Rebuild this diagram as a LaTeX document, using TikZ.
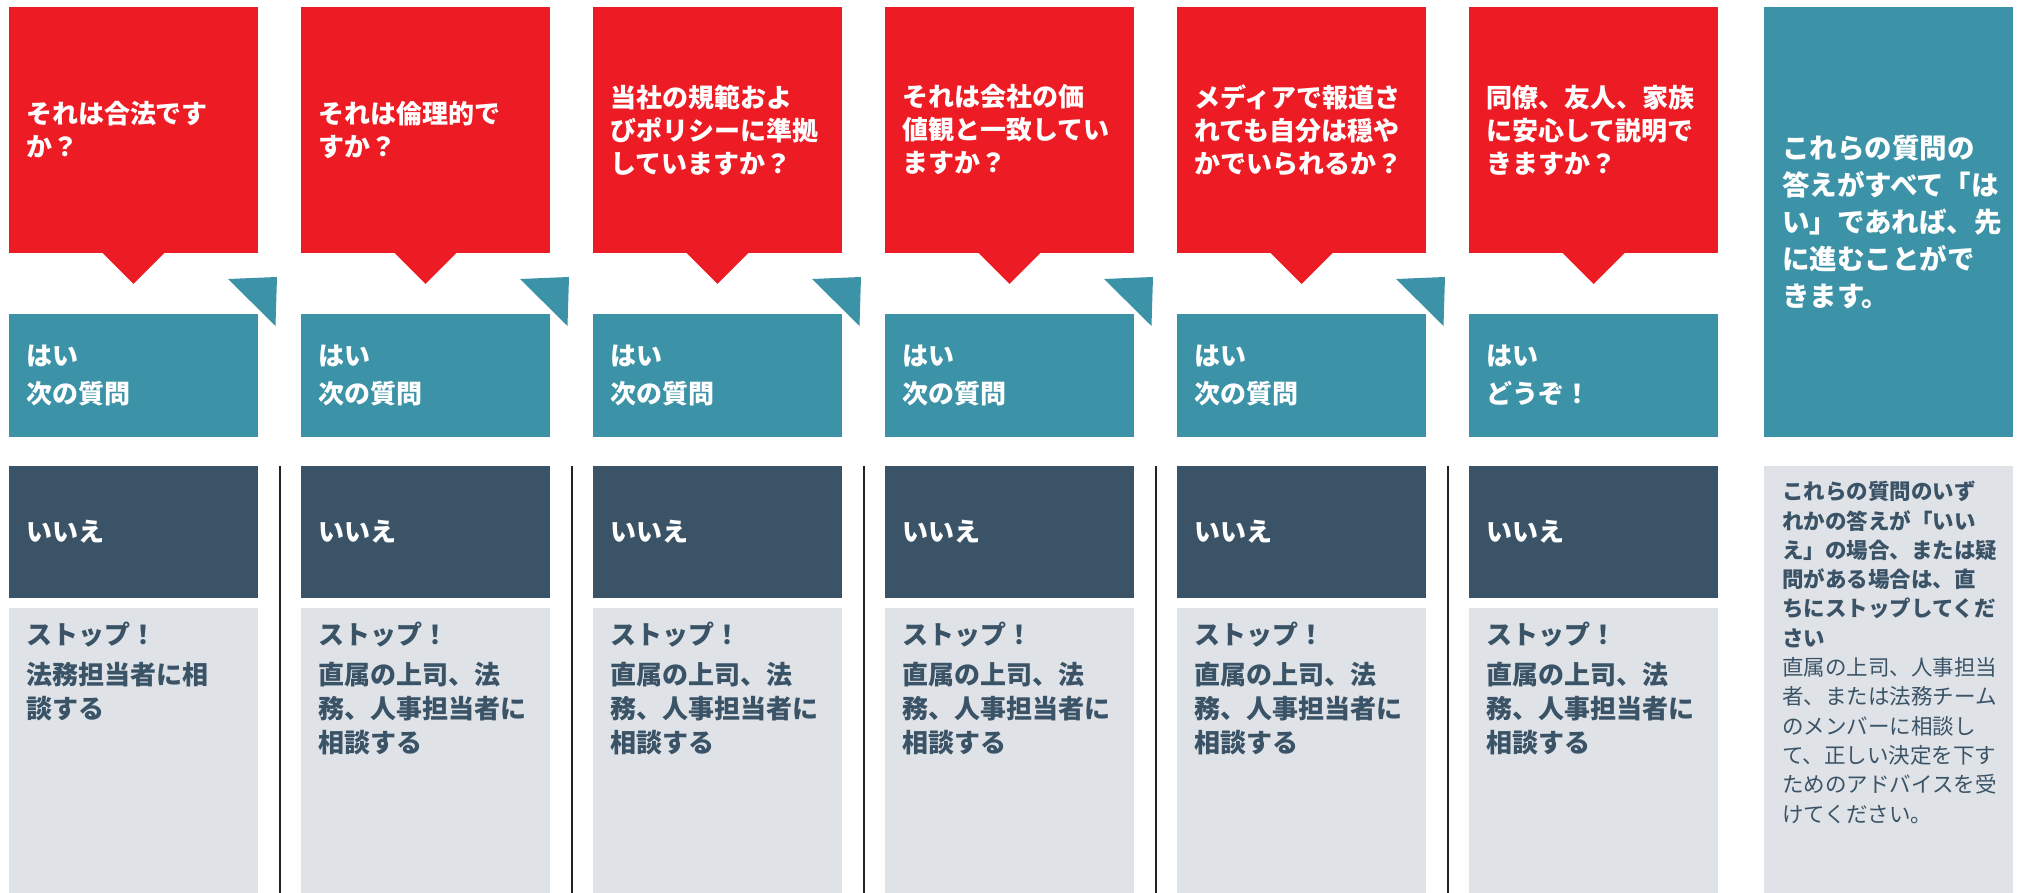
\documentclass[tikz,border=0pt]{standalone}
\usepackage{fontspec}
\setmainfont{Noto Sans CJK JP}
\usepackage{tikz}
\usetikzlibrary{positioning}

\definecolor{cRed}{HTML}{ED1C24}
\definecolor{cTeal}{HTML}{3C92A6}
\definecolor{cDark}{HTML}{3B5366}
\definecolor{cGrey}{HTML}{DFE3E8}
\definecolor{cLine}{HTML}{232323}

\newcommand{\fq}{\symbol{"FF1F}}
\newcommand{\fx}{\symbol{"FF01}}

\begin{document}
\begin{tikzpicture}
[
x=1pt, y=1pt,
box-q/.style={fill=cRed, text=white, anchor=north west, outer sep=0pt, inner xsep=17pt, inner ysep=0pt, minimum width=249pt, minimum height=246pt, text width=215pt, align=left, font=\bfseries\fontsize{26}{33}\selectfont},
box-y/.style={box-q, fill=cTeal, minimum height=123pt, font=\bfseries\fontsize{26}{38}\selectfont},
box-n/.style={box-q, fill=cDark, minimum height=132pt},
box-s/.style={box-q, fill=cGrey, minimum height=285pt},
box-f/.style={box-q, fill=cTeal, minimum height=430pt, inner xsep=18pt, text width=213pt, font=\bfseries\fontsize{27.5}{37}\selectfont},
text-s/.style={text=cDark, anchor=north west, inner sep=0pt, text width=225pt, align=left, font=\bfseries\fontsize{26}{34}\selectfont},
text-f/.style={text-s, font=\bfseries\fontsize{21.5}{29.3}\selectfont},
tip-q/.style={fill=cRed},
tip-y/.style={fill=cTeal},
line-s/.style={draw=cLine, line width=2pt},
]
\useasboundingbox (0,0) rectangle (2022,893);

% questions
\node (q1) [box-q] at (9,886)            {それは合法です\\か\fq};
\node (q2) [box-q, right = 43pt of q1]   {それは倫理的で\\すか\fq};
\node (q3) [box-q, right = 43pt of q2]   {当社の規範およ\\びポリシーに準拠\\していますか\fq};
\node (q4) [box-q, right = 43pt of q3]   {それは会社の価\\値観と一致してい\\ますか\fq};
\node (q5) [box-q, right = 43pt of q4]   {メディアで報道さ\\れても自分は穏や\\かでいられるか\fq};
\node (q6) [box-q, right = 43pt of q5]   {同僚、友人、家族\\に安心して説明で\\きますか\fq};
\node (f1) [box-f] at ([xshift=46pt]q6.north east) {これらの質問の\\答えがすべて「は\\い」であれば、先\\に進むことがで\\きます。};

% yes
\node (y1) [box-y, below = 61pt of q1]   {はい\\次の質問};
\node (y2) [box-y, below = 61pt of q2]   {はい\\次の質問};
\node (y3) [box-y, below = 61pt of q3]   {はい\\次の質問};
\node (y4) [box-y, below = 61pt of q4]   {はい\\次の質問};
\node (y5) [box-y, below = 61pt of q5]   {はい\\次の質問};
\node (y6) [box-y, below = 61pt of q6]   {はい\\どうぞ\fx};

% no
\node (n1) [box-n, below = 29pt of y1]   {いいえ};
\node (n2) [box-n, below = 29pt of y2]   {いいえ};
\node (n3) [box-n, below = 29pt of y3]   {いいえ};
\node (n4) [box-n, below = 29pt of y4]   {いいえ};
\node (n5) [box-n, below = 29pt of y5]   {いいえ};
\node (n6) [box-n, below = 29pt of y6]   {いいえ};

% stop
\node (s1) [box-s, below = 10pt of n1]   {};
\node (s2) [box-s, below = 10pt of n2]   {};
\node (s3) [box-s, below = 10pt of n3]   {};
\node (s4) [box-s, below = 10pt of n4]   {};
\node (s5) [box-s, below = 10pt of n5]   {};
\node (s6) [box-s, below = 10pt of n6]   {};
\node (g1) [box-s, below = 29pt of f1, minimum height=427pt] {};
\node (t1) [text-s, below right = 14pt and 17pt of s1.north west] {ストップ\fx\\[6pt]法務担当者に相\\談する};
\node (t2) [text-s, below right = 14pt and 17pt of s2.north west] {ストップ\fx\\[6pt]直属の上司、法\\務、人事担当者に\\相談する};
\node (t3) [text-s, below right = 14pt and 17pt of s3.north west] {ストップ\fx\\[6pt]直属の上司、法\\務、人事担当者に\\相談する};
\node (t4) [text-s, below right = 14pt and 17pt of s4.north west] {ストップ\fx\\[6pt]直属の上司、法\\務、人事担当者に\\相談する};
\node (t5) [text-s, below right = 14pt and 17pt of s5.north west] {ストップ\fx\\[6pt]直属の上司、法\\務、人事担当者に\\相談する};
\node (t6) [text-s, below right = 14pt and 17pt of s6.north west] {ストップ\fx\\[6pt]直属の上司、法\\務、人事担当者に\\相談する};
\node (tg) [text-f, below right = 15pt and 18pt of g1.north west] {これらの質問のいず\\れかの答えが「いい\\え」の場合、または疑\\問がある場合は、直\\ちにストップしてくだ\\さい\\\mdseries 直属の上司、人事担当\\者、または法務チーム\\のメンバーに相談し\\て、正しい決定を下す\\ためのアドバイスを受\\けてください。};

% pointers
\fill [tip-q] ([xshift=-31pt]q1.south) -- ([yshift=-31pt]q1.south) -- ([xshift=31pt]q1.south) -- cycle;
\fill [tip-q] ([xshift=-31pt]q2.south) -- ([yshift=-31pt]q2.south) -- ([xshift=31pt]q2.south) -- cycle;
\fill [tip-q] ([xshift=-31pt]q3.south) -- ([yshift=-31pt]q3.south) -- ([xshift=31pt]q3.south) -- cycle;
\fill [tip-q] ([xshift=-31pt]q4.south) -- ([yshift=-31pt]q4.south) -- ([xshift=31pt]q4.south) -- cycle;
\fill [tip-q] ([xshift=-31pt]q5.south) -- ([yshift=-31pt]q5.south) -- ([xshift=31pt]q5.south) -- cycle;
\fill [tip-q] ([xshift=-31pt]q6.south) -- ([yshift=-31pt]q6.south) -- ([xshift=31pt]q6.south) -- cycle;
\fill [tip-y] ([shift={(-30pt,35pt)}]y1.north east) -- ([shift={(19pt,37pt)}]y1.north east) -- ([shift={(17.5pt,-12pt)}]y1.north east) -- cycle;
\fill [tip-y] ([shift={(-30pt,35pt)}]y2.north east) -- ([shift={(19pt,37pt)}]y2.north east) -- ([shift={(17.5pt,-12pt)}]y2.north east) -- cycle;
\fill [tip-y] ([shift={(-30pt,35pt)}]y3.north east) -- ([shift={(19pt,37pt)}]y3.north east) -- ([shift={(17.5pt,-12pt)}]y3.north east) -- cycle;
\fill [tip-y] ([shift={(-30pt,35pt)}]y4.north east) -- ([shift={(19pt,37pt)}]y4.north east) -- ([shift={(17.5pt,-12pt)}]y4.north east) -- cycle;
\fill [tip-y] ([shift={(-30pt,35pt)}]y5.north east) -- ([shift={(19pt,37pt)}]y5.north east) -- ([shift={(17.5pt,-12pt)}]y5.north east) -- cycle;

% separators
\draw [line-s] ([xshift=21.5pt]n1.north east) -- ([xshift=21.5pt]s1.south east);
\draw [line-s] ([xshift=21.5pt]n2.north east) -- ([xshift=21.5pt]s2.south east);
\draw [line-s] ([xshift=21.5pt]n3.north east) -- ([xshift=21.5pt]s3.south east);
\draw [line-s] ([xshift=21.5pt]n4.north east) -- ([xshift=21.5pt]s4.south east);
\draw [line-s] ([xshift=21.5pt]n5.north east) -- ([xshift=21.5pt]s5.south east);
\end{tikzpicture}
\end{document}
